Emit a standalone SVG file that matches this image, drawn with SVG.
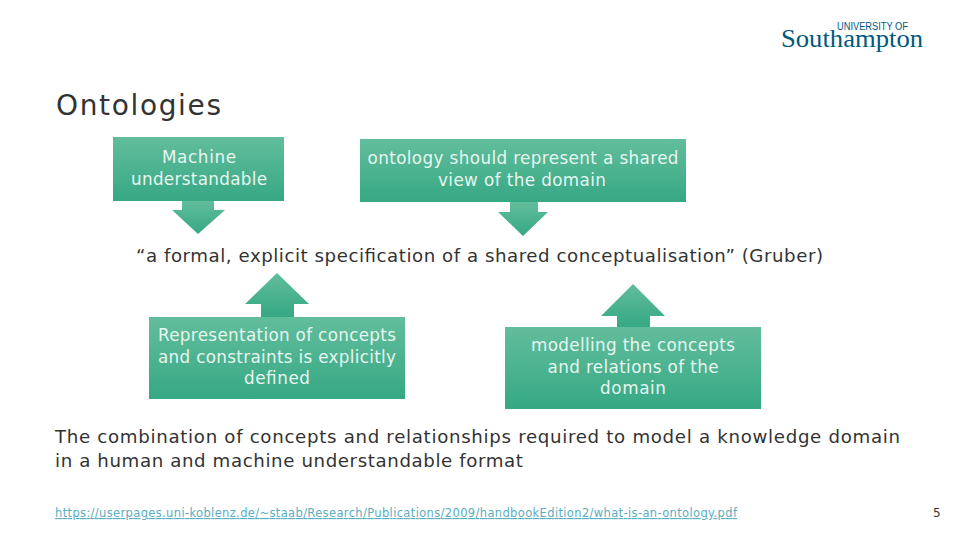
<svg xmlns="http://www.w3.org/2000/svg" width="960" height="540" viewBox="0 0 960 540">
<defs>
<linearGradient id="g" x1="0" y1="0" x2="0" y2="1"><stop offset="0" stop-color="#62bd9c"/><stop offset="1" stop-color="#36a884"/></linearGradient>
</defs>
<style>
text{font-family:"DejaVu Sans","Liberation Sans",sans-serif}
.s{fill:url(#g)}
.w{fill:#e6f6f0;font-size:16.8px;text-anchor:middle}
.b{fill:#333;font-size:18.2px}
</style>
<rect width="960" height="540" fill="#fff"/>
<g id="logo" fill="#00597f">
<text x="837" y="30" font-size="10" style="font-family:'Liberation Sans',sans-serif" textLength="71" lengthAdjust="spacingAndGlyphs">UNIVERSITY OF</text>
<text x="781" y="47" font-size="26" style="font-family:'Liberation Serif',serif" textLength="142" lengthAdjust="spacingAndGlyphs">Southampton</text>
</g>
<text id="title" x="56" y="115" fill="#333" font-size="28" textLength="165">Ontologies</text>
<g id="connectors">
<polygon class="s" points="182,201 214,201 214,210 225,210 198,234 172,210 182,210"/>
<polygon class="s" points="510,202 538,202 538,212 548,212 523,236 498,212 510,212"/>
<polygon class="s" points="261,317 294,317 294,304 309,304 277,273 245,304 261,304"/>
<polygon class="s" points="617,327 650,327 650,316 665,316 633,284 601,316 617,316"/>
</g>
<g id="n1"><rect class="s" x="113" y="137" width="171" height="64"/>
<text class="w" x="199" y="163" textLength="74">Machine</text>
<text class="w" x="199" y="185" textLength="136">understandable</text></g>
<g id="n2"><rect class="s" x="360" y="139" width="326" height="63"/>
<text class="w" x="523" y="164" textLength="311">ontology should represent a shared</text>
<text class="w" x="522" y="186" textLength="168">view of the domain</text></g>
<g id="n3"><rect class="s" x="149" y="317" width="256" height="82"/>
<text class="w" x="277" y="341" textLength="238">Representation of concepts</text>
<text class="w" x="277" y="363" textLength="238">and constraints is explicitly</text>
<text class="w" x="277" y="384" textLength="66">defined</text></g>
<g id="n4"><rect class="s" x="505" y="327" width="256" height="82"/>
<text class="w" x="633" y="351" textLength="204">modelling the concepts</text>
<text class="w" x="633" y="373" textLength="171">and relations of the</text>
<text class="w" x="633" y="394" textLength="66">domain</text></g>
<text class="b" x="136" y="261.5" textLength="687">“a formal, explicit specification of a shared conceptualisation” (Gruber)</text>
<text class="b" x="55" y="442.5" textLength="845">The combination of concepts and relationships required to model a knowledge domain</text>
<text class="b" x="55" y="466.5" textLength="468">in a human and machine understandable format</text>
<text x="55" y="517" fill="#5aaebf" font-size="11.5" text-decoration="underline" textLength="682">https://userpages.uni-koblenz.de/~staab/Research/Publications/2009/handbookEdition2/what-is-an-ontology.pdf</text>
<text x="933" y="517" fill="#333" font-size="12">5</text>
</svg>
